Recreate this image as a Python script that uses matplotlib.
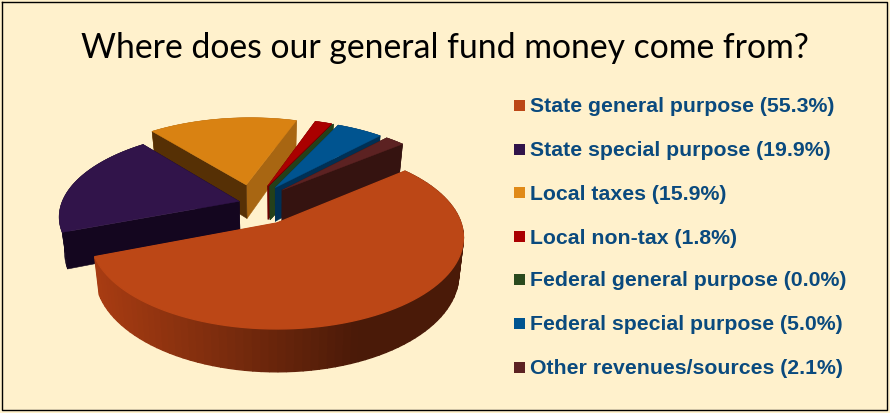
import numpy as np
import matplotlib
matplotlib.use("Agg")
import matplotlib.pyplot as plt
from matplotlib.colors import to_rgb

title = "Where does our general fund money come from?"
labels = ["State general purpose", "State special purpose", "Local taxes", "Local non-tax",
          "Federal general purpose", "Federal special purpose", "Other revenues/sources"]
values = [55.3, 19.9, 15.9, 1.8, 0.0, 5.0, 2.1]

face_colors = ["#bc4716", "#31144a", "#d98212", "#aa0000", "#2a4a1e", "#005490", "#5c2222"]
legend_colors = ["#bc4716", "#31144a", "#e08a18", "#aa0000", "#2a4a1e", "#005490", "#5c2222"]
# wall colours: the edge at the start of the slice, the edge at its end, the rim
start_walls = ["#4a1a08", "#14061f", "#563005", "#6a0000", "#24401a", "#003055", "#351310"]
end_walls = ["#a83c12", "#14061f", "#a86612", "#6a0000", "#24401a", "#003055", "#351310"]
rim_walls = ["#7a2e10", "#14061f", "#a86612", "#6a0000", "#24401a", "#003055", "#351310"]
explode = [0.27, 0.08, 0.23, 0.23, 0.23, 0.23, 0.23]

# pie layout, in pixels
ox, oy = 277, 223
rx, ry = 184, 89
persp = 0.16
depth = 36
bottom_scale = 0.975
start_angle = 40

plt.rcParams["font.family"] = "Liberation Sans"

fig = plt.figure(figsize=(8.9, 4.13), dpi=100, facecolor="#fff1cc")
ax = fig.add_axes([0, 0, 1, 1])
ax.set_xlim(0, 890)
ax.set_ylim(413, 0)
ax.axis("off")


def project(u, v, z=0):
    w = 1 / (1 + persp * v)
    x = rx * u * w
    if z:
        x = x * bottom_scale
    return ox + x, oy - ry * v * w + depth * w * z


def wall(u, v, color, lw=0.4):
    # u, v run along the top edge, the wall hangs down from it
    x1, y1 = project(u, v)
    x2, y2 = project(u, v, 1)
    ax.fill(np.r_[x1, x2[::-1]], np.r_[y1, y2[::-1]], color=color, lw=lw, zorder=zo)


# slice angles, clockwise from the start angle
sweep = np.array(values) / sum(values) * 360
ends = start_angle - np.cumsum(sweep)
starts = ends + sweep
mids = (starts + ends) / 2

# the main slice sits on the origin, the others are pushed out from a shifted hub
hub_u = -explode[0] * np.cos(np.radians(mids[0]))
hub_v = -explode[0] * np.sin(np.radians(mids[0]))

order = np.argsort(-np.sin(np.radians(mids)))
zo = 1
for i in order:
    bu = hub_u + explode[i] * np.cos(np.radians(mids[i]))
    bv = hub_v + explode[i] * np.sin(np.radians(mids[i]))
    t = np.radians(np.linspace(starts[i], ends[i], 90))
    au = bu + np.cos(t)
    av = bv + np.sin(t)

    # a rim on the far side goes behind the edge walls
    if i == 2:
        wall(au, av, rim_walls[i])
        zo += 1

    # back walls first
    edges = [(au[0], av[0], start_walls[i]), (au[-1], av[-1], end_walls[i])]
    edges.sort(key=lambda e: -e[1])
    for eu, ev, col in edges:
        wall(np.array([bu, eu]), np.array([bv, ev]), col)
        zo += 1

    if i == 0:
        # the big rim is shaded from left to right, each strip covers the seam of the last
        left, right = np.array(to_rgb("#a83c12")), np.array(to_rgb("#4a1a08"))
        for j in range(len(t) - 1, 0, -1):
            px, _ = project(au[j], av[j])
            f = np.clip((px - 95) / 260, 0, 1)
            wall(au[j - 1:j + 1], av[j - 1:j + 1], tuple(left + (right - left) * f), lw=1)
    elif i != 2:
        wall(au, av, rim_walls[i])
    zo += 1

    x, y = project(np.r_[bu, au], np.r_[bv, av])
    ax.fill(x, y, color=face_colors[i], lw=1 if i == 0 else 0.3, zorder=zo)
    zo += 1

ax.text(445, 48, title, ha="center", va="center", fontsize=24.3, family="Lato", color="black", zorder=zo)

legend_y = [105, 149, 192, 236, 279, 323, 367]
for name, val, col, y in zip(labels, values, legend_colors, legend_y):
    ax.fill([514, 525, 525, 514], [y - 5.5, y - 5.5, y + 5.5, y + 5.5], color=col, lw=0, zorder=zo)
    ax.text(530, y, f"{name} ({val:.1f}%)", va="center_baseline", fontsize=15.3, fontweight="bold",
            color="#0a4a7e", zorder=zo)

ax.plot([2, 887, 887, 2, 2], [2, 2, 410, 410, 2], color="black", lw=1, zorder=zo)

fig.savefig("out.png", dpi=100, facecolor=fig.get_facecolor())
